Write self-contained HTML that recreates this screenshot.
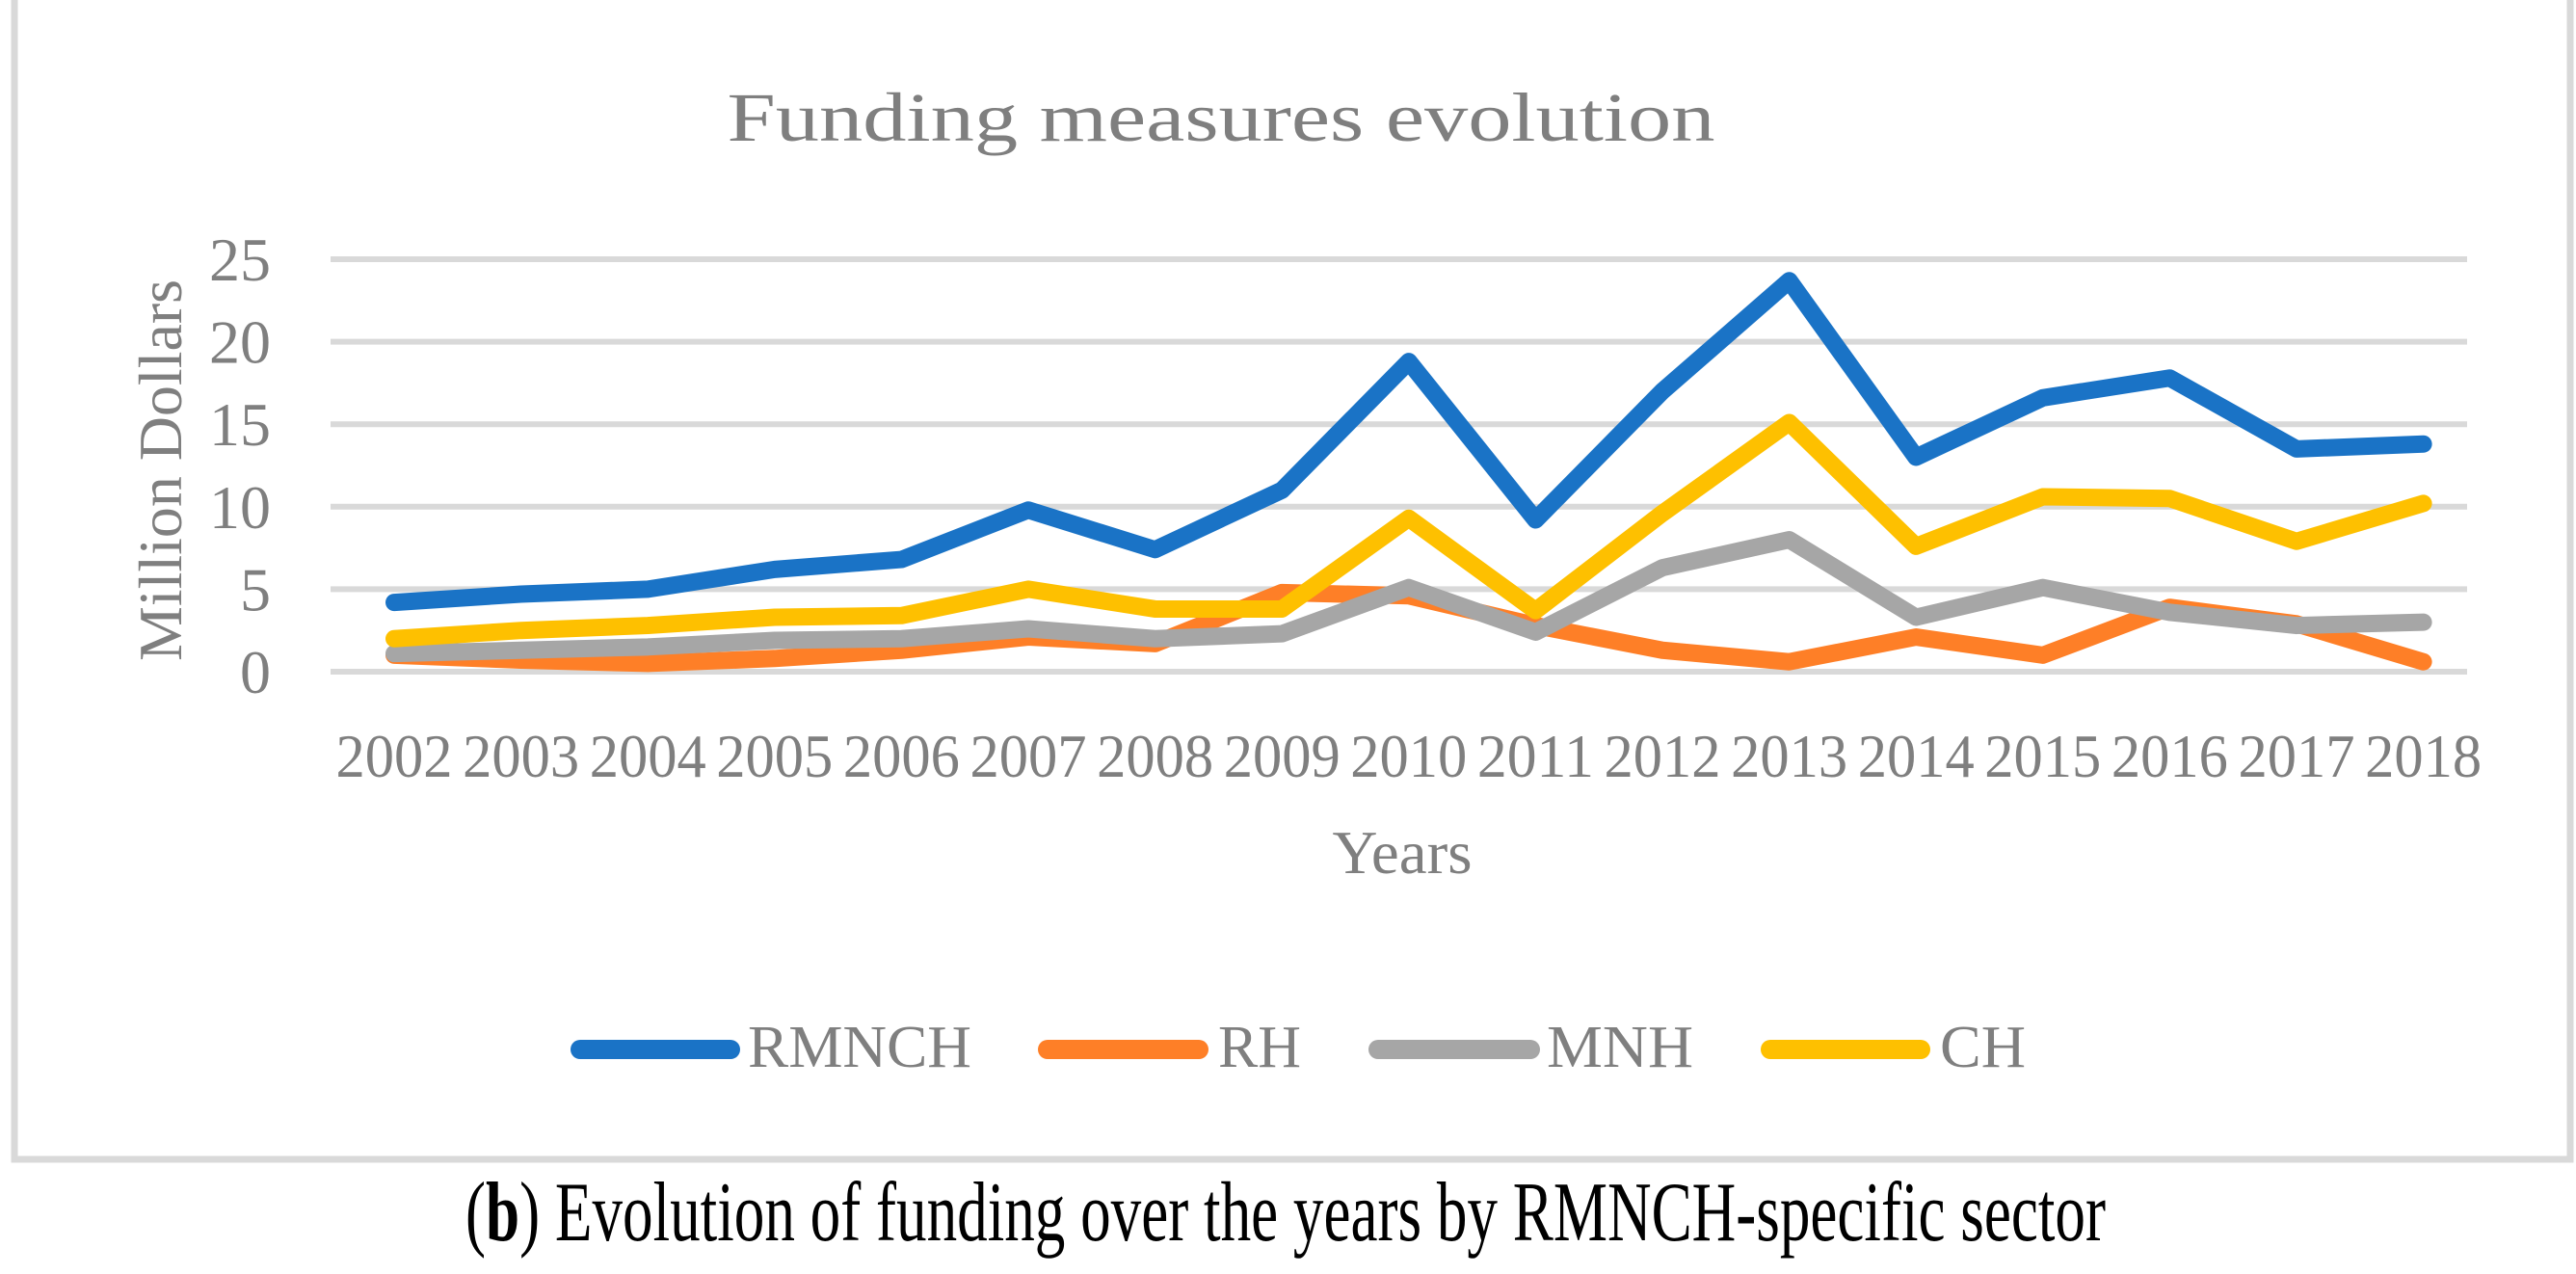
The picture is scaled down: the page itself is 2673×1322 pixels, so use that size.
<!DOCTYPE html>
<html><head><meta charset="utf-8"><style>
html,body{margin:0;padding:0;background:#fff;}
svg{display:block;font-family:"Liberation Serif",serif;}
</style></head><body>
<svg width="2673" height="1322" viewBox="0 0 2673 1322" xmlns="http://www.w3.org/2000/svg">
<rect x="15" y="-10" width="2652" height="1213" fill="none" stroke="#d9d9d9" stroke-width="7"/>
<text x="1267" y="146" font-size="72" fill="#7f7f7f" text-anchor="middle" textLength="1025" lengthAdjust="spacingAndGlyphs">Funding measures evolution</text>
<g id="grid"></g>
<g id="yticks"></g>
<g id="xticks"></g>
<g id="lines"></g>
<text transform="translate(188,488) rotate(-90)" font-size="64" fill="#7f7f7f" text-anchor="middle" textLength="396" lengthAdjust="spacingAndGlyphs">Million Dollars</text>
<text x="1455" y="906" font-size="64" fill="#7f7f7f" text-anchor="middle" textLength="145" lengthAdjust="spacingAndGlyphs">Years</text>
<g id="legend"></g>
<text x="1334" y="1287" font-size="88" fill="#000" text-anchor="middle" textLength="1702" lengthAdjust="spacingAndGlyphs">(<tspan font-weight="bold">b</tspan>) Evolution of funding over the years by RMNCH-specific sector</text>
</svg>
<script>
const years = ["2002","2003","2004","2005","2006","2007","2008","2009","2010","2011","2012","2013","2014","2015","2016","2017","2018"];
const seriesNames = ["RMNCH","RH","MNH","CH"];
const rmnch = [4.2,4.7,5.0,6.2,6.8,9.8,7.4,11.0,18.8,9.2,17.0,23.7,13.0,16.6,17.8,13.5,13.8];
const rh = [1.0,0.7,0.5,0.8,1.3,2.1,1.7,4.8,4.6,2.8,1.3,0.6,2.1,1.0,3.9,2.9,0.6];
const mnh = [1.1,1.3,1.5,1.9,2.0,2.6,2.0,2.3,5.1,2.4,6.3,8.0,3.3,5.1,3.6,2.8,3.0];
const ch = [2.0,2.5,2.8,3.3,3.4,5.0,3.8,3.8,9.3,3.7,9.6,15.1,7.6,10.6,10.5,7.9,10.2];
const yTicks = [0,5,10,15,20,25];

const NS = "http://www.w3.org/2000/svg";
const X0 = 409, DX = 131.6, Y0 = 697, YMAX = 25, YTOP = 269;
const xs = i => X0 + i * DX;
const ys = v => Y0 - (v / YMAX) * (Y0 - YTOP);
function mk(tag, attrs, parent){ const e=document.createElementNS(NS,tag); for(const k in attrs) e.setAttribute(k,attrs[k]); parent.appendChild(e); return e; }

const grid = document.getElementById('grid');
const yt = document.getElementById('yticks');
yTicks.forEach(v=>{
  const l = mk('line',{x1:343,x2:2560,y1:ys(v),y2:ys(v),stroke:'#d9d9d9','stroke-width':6},grid);
  
  
  const t = mk('text',{x:281,y:ys(v)+22,'font-size':64,fill:'#7f7f7f','text-anchor':'end'},yt);
  t.textContent = v;
  
  
});
const xt = document.getElementById('xticks');
years.forEach((y,i)=>{
  const t = mk('text',{x:xs(i),y:806,'font-size':64,fill:'#7f7f7f','text-anchor':'middle',textLength:121,lengthAdjust:'spacingAndGlyphs'},xt);
  t.textContent = y;
  
  
});
const colors = ["#1a73c6","#fe7f27","#a6a6a6","#fec000"];
const data = [rmnch, rh, mnh, ch];
const lg = document.getElementById('lines');
[0,1,2,3].forEach(k=>{
  const pts = data[k].map((v,i)=>xs(i)+','+ys(v)).join(' ');
  const p = mk('polyline',{points:pts,fill:'none',stroke:colors[k],'stroke-width':18,'stroke-linejoin':'round','stroke-linecap':'round'},lg);
  
  
});
const leg = document.getElementById('legend');
const legLine = [[592,768],[1077,1254],[1420,1598],[1827,2003]];
const legText = [[776,232],[1264,86],[1605,152],[2013,89]];
seriesNames.forEach((n,k)=>{
  const l = mk('line',{x1:legLine[k][0]+10,x2:legLine[k][1]-10,y1:1089,y2:1089,stroke:colors[k],'stroke-width':20,'stroke-linecap':'round'},leg);
  
  
  const t = mk('text',{x:legText[k][0],y:1107,'font-size':62,fill:'#7f7f7f',textLength:legText[k][1],lengthAdjust:'spacingAndGlyphs'},leg);
  t.textContent = n;
  
  
});
</script>
</body></html>
